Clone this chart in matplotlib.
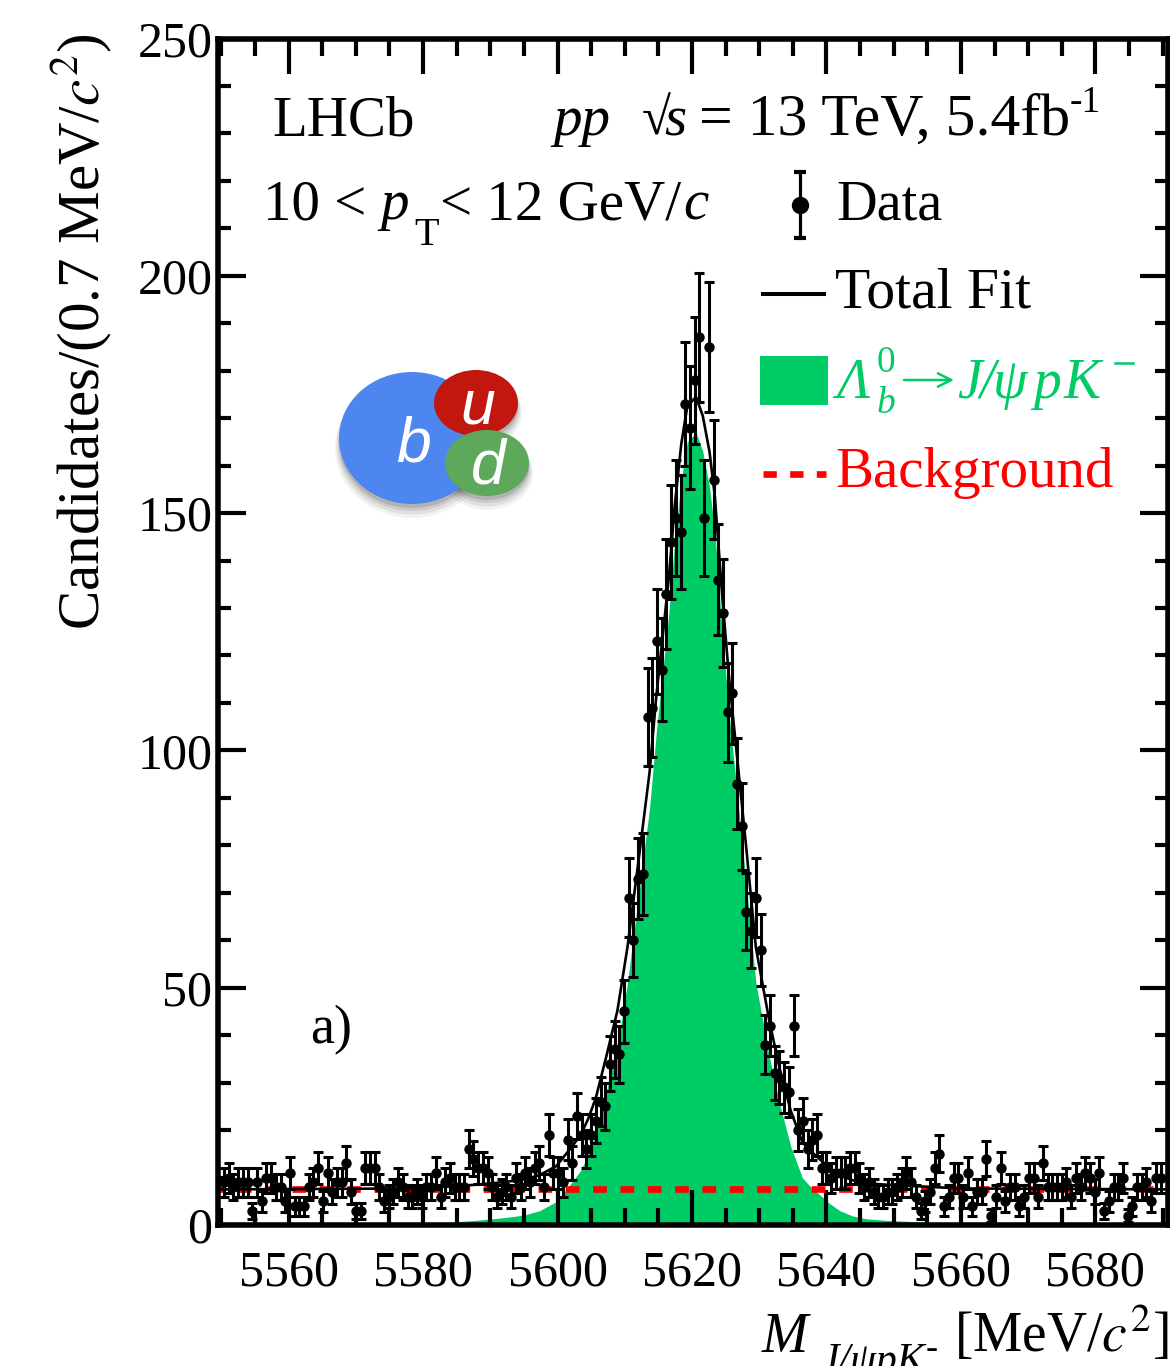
import numpy as np
import matplotlib
matplotlib.use('Agg')
import matplotlib.pyplot as plt
from matplotlib.patches import Ellipse, Rectangle
from matplotlib.ticker import MultipleLocator

plt.rcParams['font.family'] = ['Liberation Serif', 'DejaVu Serif']
plt.rcParams['mathtext.fontset'] = 'stix'

# candidates per 0.7 MeV bin
counts = np.array([
    9, 10, 8, 9, 9, 9, 3, 9, 5, 10,
    10, 8, 8, 5, 11, 4, 4, 4, 8, 9,
    12, 5, 11, 7, 9, 9, 13, 7, 3, 3,
    12, 12, 12, 8, 5, 6, 7, 9, 8, 6,
    6, 7, 6, 8, 8, 11, 6, 9, 10, 8,
    8, 8, 16, 14, 12, 12, 11, 8, 6, 7,
    8, 6, 10, 8, 11, 9, 12, 13, 8, 19,
    11, 11, 9, 18, 13, 23, 19, 16, 19, 22,
    26, 25, 34, 37, 36, 45, 69, 60, 73, 74,
    107, 109, 123, 117, 133, 144, 149, 146, 173, 168,
    178, 187, 149, 185, 157, 136, 129, 108, 112, 93,
    84, 66, 62, 69, 58, 38, 42, 32, 31, 29,
    28, 42, 20, 22, 16, 18, 19, 12, 12, 10,
    11, 11, 11, 12, 12, 10, 8, 9, 7, 6,
    6, 7, 7, 8, 9, 11, 9, 6, 3, 5,
    7, 12, 15, 4, 6, 10, 10, 6, 11, 4,
    7, 7, 14, 2, 6, 12, 5, 8, 8, 4,
    6, 10, 10, 6, 13, 8, 8, 8, 8, 9,
    6, 10, 8, 11, 10, 7, 11, 3, 5, 8,
    8, 10, 2, 4, 8, 8, 9, 5, 10, 10,
])
bin_centers = 5550.4 + 0.7 * np.arange(len(counts))
errors = np.sqrt(counts)

# signal shape read along the edge of the green area
signal_mass = [
    5550.0, 5578.0, 5584.0, 5588.0, 5591.0, 5593.5, 5595.3, 5597.3, 5599.8, 5601.8,
    5603.5, 5604.6, 5605.7, 5607.2, 5608.9, 5610.4, 5612.2, 5613.7, 5614.7, 5615.9,
    5616.6, 5617.4, 5618.4, 5619.3, 5620.6, 5621.6, 5622.6, 5623.4, 5624.5, 5625.5,
    5626.5, 5628.0, 5629.5, 5631.5, 5633.0, 5634.7, 5636.4, 5637.4, 5638.5, 5640.4,
    5642.0, 5643.9, 5646.0, 5648.8, 5654.5, 5659.8, 5691.0,
]
signal_values = np.array([
    0.0, 0.2, 0.6, 1.0, 1.4, 1.8, 2.2, 3.0, 4.9, 8.4,
    11.6, 15.0, 19.3, 27.7, 37.6, 51.0, 71.0, 88.0, 104.0, 120.0,
    129.5, 143.6, 157.0, 165.0, 167.0, 163.0, 155.5, 146.0, 125.0, 108.0,
    94.0, 73.0, 51.0, 35.5, 25.7, 16.5, 10.0, 8.4, 7.0, 4.6,
    3.0, 1.9, 1.3, 1.0, 0.6, 0.2, 0.0,
])
background_level = 7.5

x_major = [5560, 5580, 5600, 5620, 5640, 5660, 5680]
y_major = [0, 50, 100, 150, 200, 250]

GREEN = '#00CC66'
RED = '#FF0000'
W, H = 1170, 1366

fig = plt.figure(figsize=(W / 100, H / 100), dpi=100)
ax = fig.add_axes([218 / W, 1 - 1225 / H, 950 / W, (1225 - 38.5) / H])

ax.fill_between(signal_mass, signal_values, color=GREEN, linewidth=0, zorder=1)
ax.plot([5548.3, 5692], [background_level, background_level], color=RED, lw=4.8,
        dashes=(2.05, 2.05), dash_capstyle='butt', zorder=2)
ax.plot(signal_mass, signal_values + background_level, color='black', lw=1.9, zorder=3)
ax.errorbar(bin_centers, counts, yerr=errors, fmt='o', color='black', ms=6.5, elinewidth=2.2,
            capsize=3.6, capthick=2.2, zorder=4)

ax.set_xlim(5549.5, 5690.8)
ax.set_ylim(0, 250)
ax.set_xticks(x_major)
ax.set_yticks(y_major)
ax.xaxis.set_minor_locator(MultipleLocator(5))
ax.yaxis.set_minor_locator(MultipleLocator(10))
ax.tick_params(axis='x', which='major', direction='in', top=True, length=25, width=3,
               labelsize=36, pad=18)
ax.tick_params(axis='x', which='minor', direction='in', top=True, length=12.5, width=3)
ax.tick_params(axis='y', which='major', direction='in', right=True, length=20, width=3,
               labelsize=36, pad=4)
ax.tick_params(axis='y', which='minor', direction='in', right=True, length=9.5, width=3)
for spine in ax.spines.values():
    spine.set_linewidth(4)
    spine.set_zorder(6)

# overlay in picture pixels for the labels, legend and the quark sketch
over = fig.add_axes([0, 0, 1, 1])
over.set_xlim(0, W)
over.set_ylim(H, 0)
over.axis('off')
over.patch.set_alpha(0)

for dy, grow, alpha in [(10, 8, 0.05), (8, 5, 0.07), (6, 2, 0.09), (4, 0, 0.12)]:
    for cx, cy, rx, ry in [(412, 438, 73, 66), (487, 463, 42, 33), (476, 403, 42, 33)]:
        over.add_patch(Ellipse((cx, cy + dy), 2 * rx + grow, 2 * ry + grow, color='black',
                               alpha=alpha, linewidth=0))
over.add_patch(Ellipse((412, 438), 146, 132, color='#4C86EE', linewidth=0))
over.add_patch(Ellipse((476, 403), 84, 66, color='#C1170F', linewidth=0))
over.add_patch(Ellipse((487, 463), 84, 66, color='#5DA85A', linewidth=0))
for letter, lx, ly in [('b', 413, 462), ('u', 478, 424), ('d', 488, 483)]:
    over.text(lx, ly, letter, color='white', fontsize=45, style='italic', ha='center',
              va='baseline', family='Liberation Sans')

over.text(272, 135, 'LHCb', fontsize=41, va='baseline')
over.text(553, 135, 'pp', fontsize=41, style='italic', va='baseline')
over.text(642, 135, '\u221a', fontsize=38, va='baseline')
over.text(664, 135, 's', fontsize=41, style='italic', va='baseline')
over.text(699, 135, '= 13 TeV, 5.4fb', fontsize=43, va='baseline')
over.text(1070, 112, '-1', fontsize=27, va='baseline')

over.text(263, 219, '10 <', fontsize=41, va='baseline')
over.text(380, 219, 'p', fontsize=41, style='italic', va='baseline')
over.text(414, 245, 'T', fontsize=29, va='baseline')
over.text(440, 219, '< 12 GeV/', fontsize=41, va='baseline')
over.text(683, 219, 'c', fontsize=41, style='italic', va='baseline')
over.text(310, 1043, 'a)', fontsize=39, va='baseline')

over.errorbar([800], [205], yerr=[33], fmt='o', color='black', ms=11.5, elinewidth=2.3,
              capsize=4, capthick=3)
over.text(836, 219, 'Data', fontsize=40.5, va='baseline')
over.plot([763, 824], [294, 294], color='black', lw=2.9)
over.text(835, 307, 'Total Fit', fontsize=41.5, va='baseline')

over.add_patch(Rectangle((760, 356), 68, 49, color=GREEN, linewidth=0))
over.text(836, 398, '\u039b', fontsize=40, style='italic', color=GREEN, va='baseline')
over.text(877, 372, '0', fontsize=27, color=GREEN, va='baseline')
over.text(877, 413, 'b', fontsize=27, style='italic', color=GREEN, va='baseline')
over.annotate('', xy=(954, 380), xytext=(904, 380),
              arrowprops=dict(arrowstyle='->', color=GREEN, lw=1.8, mutation_scale=24,
                              shrinkA=0, shrinkB=0))
over.text(957, 398, 'J', fontsize=40, style='italic', color=GREEN, va='baseline')
over.text(980, 398, '/', fontsize=40, style='italic', color=GREEN, va='baseline')
over.text(993, 398, '\u03c8', fontsize=40, style='italic', color=GREEN, va='baseline')
over.text(1033, 398, 'p', fontsize=40, style='italic', color=GREEN, va='baseline')
over.text(1064, 398, 'K', fontsize=40, style='italic', color=GREEN, va='baseline')
over.plot([1115, 1133], [363, 363], color=GREEN, lw=1.8)

over.plot([763, 826], [474, 474], color=RED, lw=4.8, dashes=(2.0, 2.0), dash_capstyle='butt')
over.text(835, 487, 'Background', fontsize=41, color=RED, va='baseline')

over.text(82, 332, r'Candidates/(0.7 MeV/$c^2$)', fontsize=42.5, rotation=90, ha='center',
          va='center')
over.text(762, 1352, 'M', fontsize=40, style='italic', va='baseline')
over.text(820, 1372, 'J/\u03c8pK', fontsize=30, style='italic', va='baseline')
over.text(926, 1358, '-', fontsize=26, va='baseline')
over.text(1168, 1352, r'[MeV/$c^2$]', fontsize=40, ha='right', va='baseline')

fig.savefig('out.png', dpi=100)
